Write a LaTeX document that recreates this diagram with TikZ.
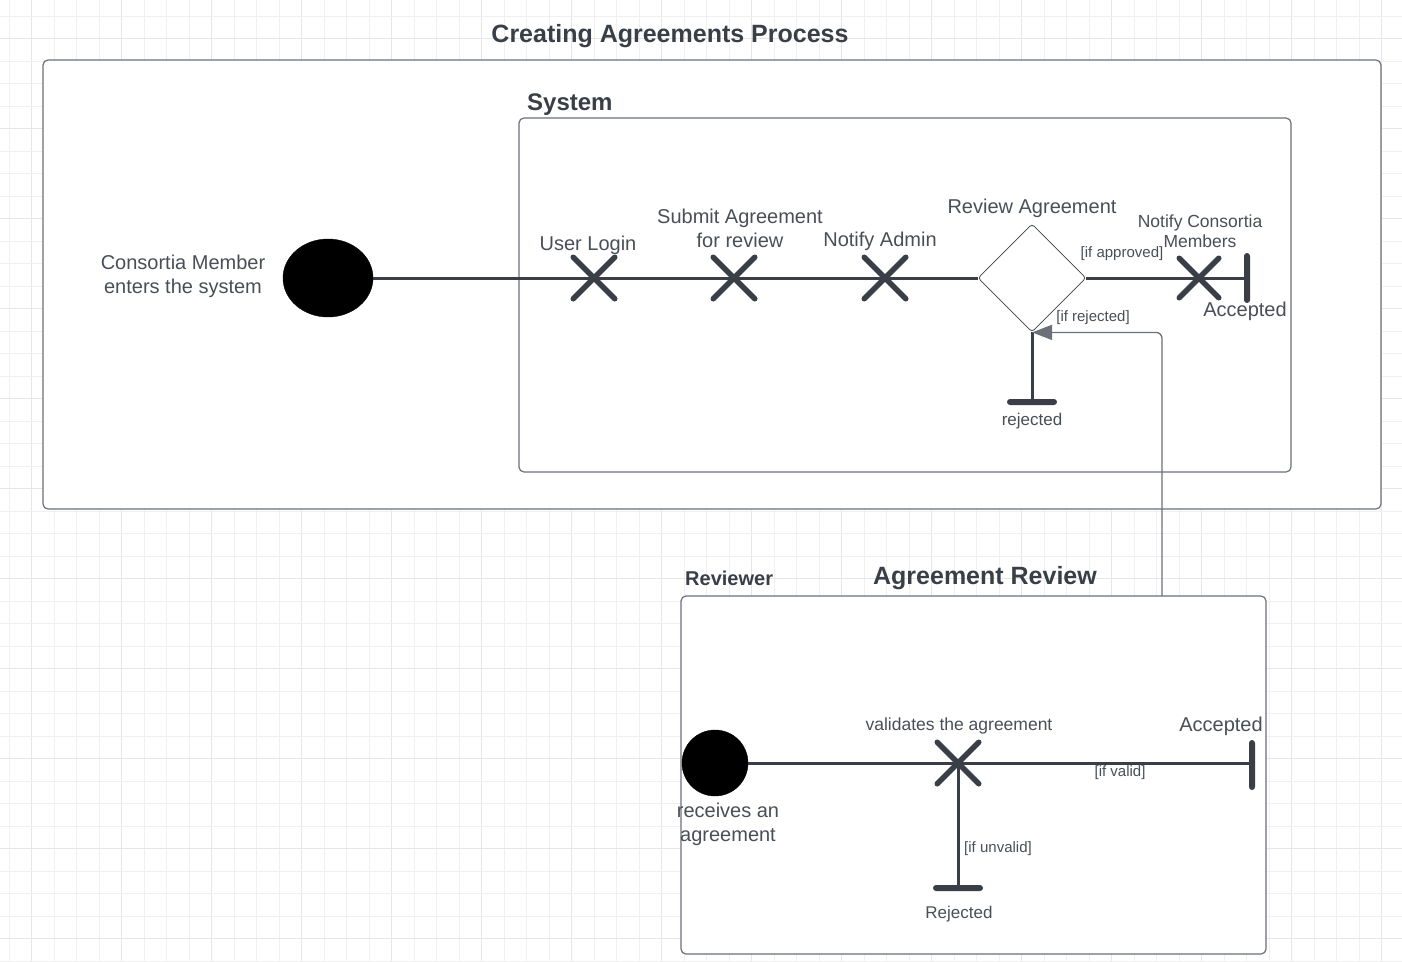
\documentclass[tikz,border=0pt]{standalone}
\usepackage{fontspec}
\setmainfont{Liberation Sans}
\usetikzlibrary{shapes.misc,shapes.geometric,arrows.meta}
\definecolor{ink}{HTML}{3A3F47}
\definecolor{txt}{HTML}{4A4F57}
\definecolor{frame}{HTML}{6B7079}
\definecolor{gridmin}{HTML}{F0F0F0}
\definecolor{gridmaj}{HTML}{E6E6E6}

\begin{document}
\begin{tikzpicture}[
  x=1pt, y=-1pt,
  box/.style={draw=frame, line width=1.2pt, rounded corners=5pt, fill=white},
  lbl/.style={font=\fontsize{#1}{#1}\selectfont, text=txt, align=center, inner sep=1pt},
  ttl/.style={font=\fontsize{#1}{#1}\selectfont\bfseries, text=ink, inner sep=1pt},
  grd/.style={font=\fontsize{15}{15}\selectfont, text=txt, inner sep=1pt},
  start/.style={ellipse, fill=black, draw=black, inner sep=0pt},
  act/.style={cross out, draw=ink, line width=5.5pt, line cap=round,
              minimum width=36pt, minimum height=36pt, inner sep=0pt},
  stopbar/.style={fill=ink, rounded corners=3pt, inner sep=0pt},
  decision/.style={diamond, draw=ink, line width=0.8pt, fill=white, rounded corners=3pt,
                   minimum width=108pt, minimum height=108pt, inner sep=0pt},
  flow/.style={draw=ink, line width=3pt},
  back/.style={draw=frame, line width=1.3pt, rounded corners=6pt,
               -{Triangle[length=20pt,width=15pt]}}
]
  \useasboundingbox (0,0) rectangle (1402,961);

  %-- Grille
  \foreach \i in {0,...,62} {
    \pgfmathsetmacro{\gx}{9+22.5*\i}
    \ifnum\numexpr\i-4*(\i/4)\relax=1
      \draw[gridmaj, line width=1pt] (\gx,0) -- (\gx,961);
    \else
      \draw[gridmin, line width=1pt] (\gx,0) -- (\gx,961);
    \fi
  }
  \foreach \j in {0,...,42} {
    \pgfmathsetmacro{\gy}{16+22.5*\j}
    \ifnum\numexpr\j-4*(\j/4)\relax=1
      \draw[gridmaj, line width=1pt] (0,\gy) -- (1402,\gy);
    \else
      \draw[gridmin, line width=1pt] (0,\gy) -- (1402,\gy);
    \fi
  }

  %-- Cadres
  \node[ttl=25] (title) at (670,36) {Creating Agreements Process};
  \draw[box] (43,60) rectangle (1381,509);
  \node[ttl=24, anchor=west] (system) at (526,105) {System};
  \draw[box] (519,118) rectangle (1291,472);

  \node[ttl=20, anchor=west] (reviewer) at (684,578) {Reviewer};
  \node[ttl=25] (agreement) at (985,578) {Agreement Review};
  \draw[box] (681,596) rectangle (1266,954);

  %-- Processus
  \node[start, minimum width=90pt, minimum height=78pt] (s1) at (328,278) {};
  \node[lbl=20] (member) at (183,276) {Consortia Member\\[4pt]enters the system};

  \node[act] (login)  at (594,278) {};
  \node[act] (submit) at (734,278) {};
  \node[act] (admin)  at (885,278) {};
  \node[decision] (review) at (1032,278) {};
  \node[act, minimum width=34pt, minimum height=34pt] (notify) at (1199,278) {};
  \node[stopbar, minimum width=6pt, minimum height=50pt] (ok1) at (1247,278) {};
  \node[stopbar, minimum width=50pt, minimum height=6pt] (ko1) at (1032,402) {};

  \node[lbl=20] (l1) at (588,245) {User Login};
  \node[lbl=20] (l2) at (740,228) {Submit Agreement\\[4pt]for review};
  \node[lbl=20] (l3) at (880,241) {Notify Admin};
  \node[lbl=20] (l4) at (1032,208) {Review Agreement};
  \node[lbl=17.5] (l5) at (1200,231) {Notify Consortia\\[3pt]Members};
  \node[lbl=20] (l6) at (1245,311) {Accepted};
  \node[lbl=17] (l7) at (1032,421) {rejected};
  \node[grd] (g1) at (1122,254) {[if approved]};
  \node[grd] (g2) at (1093,318) {[if rejected]};

  \draw[flow] (s1) -- (login.center) -- (submit.center) -- (admin.center) -- (review);
  \draw[flow] (review) -- (notify.center) -- (ok1);
  \draw[flow] (review) -- (ko1);

  %-- Revue
  \node[start, minimum width=66pt, minimum height=66pt] (s2) at (715,763) {};
  \node[act] (validate) at (958,763) {};
  \node[stopbar, minimum width=6pt, minimum height=50pt] (ok2) at (1252,765) {};
  \node[stopbar, minimum width=50pt, minimum height=6pt] (ko2) at (958,888) {};

  \node[lbl=20] (r1) at (728,824) {receives an\\[4pt]agreement};
  \node[lbl=17.5] (r2) at (959,726) {validates the agreement};
  \node[lbl=20] (r3) at (1221,726) {Accepted};
  \node[lbl=17] (r4) at (959,914) {Rejected};
  \node[grd] (g3) at (1120,773) {[if valid]};
  \node[grd] (g4) at (998,849) {[if unvalid]};

  \draw[flow] (s2) -- (validate.center) -- (ok2.west |- validate.center);
  \draw[flow] (validate.center) -- (ko2);

  \coordinate (up) at (1162,596);
  \draw[back] (up) |- (review.south);
\end{tikzpicture}
\end{document}
